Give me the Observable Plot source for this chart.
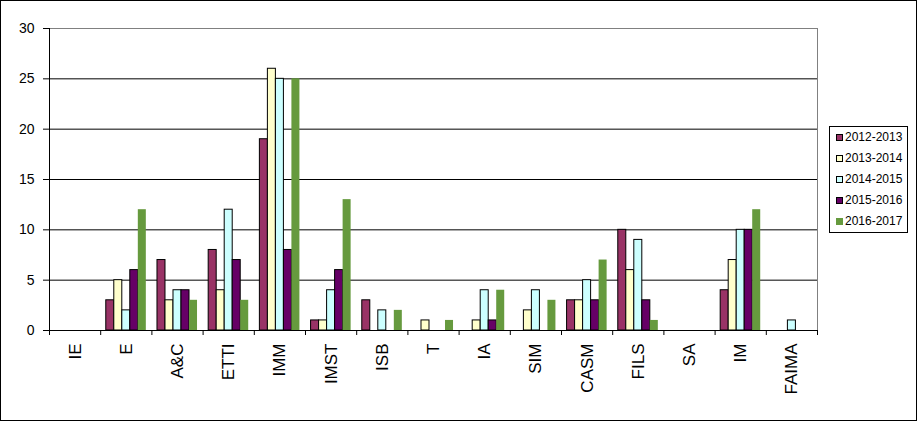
<!DOCTYPE html>
<html>
<head>
<meta charset="utf-8">
<script src="https://cdn.jsdelivr.net/npm/d3@7"></script>
<script src="https://cdn.jsdelivr.net/npm/@observablehq/plot@0.6"></script>
<style>
  html, body { margin: 0; padding: 0; background: #fff; }
  #wrap { position: relative; width: 918px; height: 424px; font-family: "Liberation Sans", Arial, sans-serif; }
  #border { position: absolute; left: 0; top: 0; width: 917px; height: 421px; border: 1px solid #000; box-sizing: border-box; pointer-events: none; }
  #legend { position: absolute; left: 829px; top: 126px; width: 79px; height: 107px; border: 1px solid #000; box-sizing: border-box; background: #fff; padding-top: 0px; }
  .item { height: 21px; line-height: 21px; font-size: 12px; color: #000; white-space: nowrap; display: flex; align-items: center; }
  .sw { width: 5px; height: 5px; border: 1px solid #000; margin-left: 6px; margin-right: 2px; flex: none; }
</style>
</head>
<body>
<div id="wrap"><div id="border"></div><div id="legend"></div></div>
<script>
const categories = ["IE", "E", "A&C", "ETTI", "IMM", "IMST", "ISB", "T", "IA", "SIM", "CASM", "FILS", "SA", "IM", "FAIMA"];
const seriesNames = ["2012-2013", "2013-2014", "2014-2015", "2015-2016", "2016-2017"];
const seriesColors = ["#993366", "#FFFFCC", "#CCFFFF", "#660066", "#669A3E"];
const seriesStrokes = ["#000", "#000", "#000", "#000", "none"];
const v2012_2013 = [0, 3, 7, 8, 19, 1, 3, 0, 0, 0, 3, 10, 0, 4, 0];
const v2013_2014 = [0, 5, 3, 4, 26, 1, 0, 1, 1, 2, 3, 6, 0, 7, 0];
const v2014_2015 = [0, 2, 4, 12, 25, 4, 2, 0, 4, 4, 5, 9, 0, 10, 1];
const v2015_2016 = [0, 6, 4, 7, 8, 6, 0, 0, 1, 0, 3, 3, 0, 10, 0];
const v2016_2017 = [0, 12, 3, 3, 25, 13, 2, 1, 4, 3, 7, 1, 0, 12, 0];
const yTicks = [0, 5, 10, 15, 20, 25, 30];

const seriesValues = [v2012_2013, v2013_2014, v2014_2015, v2015_2016, v2016_2017];
const groupFrac = 0.782;            // share of each category band covered by the bar group
const barFrac = groupFrac / seriesNames.length;
const rows = [];
seriesValues.forEach((vals, s) => {
  vals.forEach((v, i) => {
    if (v > 0) {
      const x1 = i + (1 - groupFrac) / 2 + s * barFrac;
      rows.push({cat: categories[i], series: seriesNames[s], s, x1, x2: x1 + barFrac, value: v});
    }
  });
});

const plot = Plot.plot({
  width: 918,
  height: 424,
  marginLeft: 49,
  marginRight: 101,
  marginTop: 28,
  marginBottom: 94,
  style: {fontFamily: "'Liberation Sans', Arial, sans-serif", fontSize: "14px", color: "#000", background: "transparent"},
  x: {domain: [0, categories.length], label: null},
  y: {domain: [0, 30], label: null},
  color: {domain: seriesNames, range: seriesColors},
  marks: [
    Plot.ruleY([5, 10, 15, 20, 25], {stroke: "#000", strokeWidth: 1}),
    Plot.ruleY([30], {stroke: "#808080", strokeWidth: 1}),
    Plot.ruleX([categories.length], {stroke: "#808080", strokeWidth: 1}),
    ...seriesNames.map((name, s) =>
      Plot.rectY(rows.filter(d => d.s === s), {
        x1: "x1", x2: "x2", y1: 0, y2: "value",
        fill: seriesColors[s], stroke: seriesStrokes[s], strokeWidth: 1
      })
    ),
    Plot.ruleX([0], {stroke: "#000", strokeWidth: 1}),
    Plot.ruleY([0], {stroke: "#000", strokeWidth: 1}),
    Plot.axisY(yTicks, {tickSize: 6, tickPadding: 9, stroke: "#000", strokeOpacity: 1, fontSize: 14, fill: "#000", label: null}),
    Plot.axisX(d3.range(categories.length + 1), {tickSize: 5, tickFormat: () => "", stroke: "#000", strokeOpacity: 1, label: null}),
    Plot.text(categories, {
      x: (d, i) => i + 0.5, frameAnchor: "bottom", dy: 13, rotate: -90,
      textAnchor: "end", lineAnchor: "middle", fontSize: 17, fill: "#000"
    })
  ]
});
plot.style.position = "absolute";
plot.style.left = "0px";
plot.style.top = "0px";
document.getElementById("wrap").prepend(plot);

const legend = document.getElementById("legend");
seriesNames.forEach((name, s) => {
  const item = document.createElement("div");
  item.className = "item";
  const sw = document.createElement("span");
  sw.className = "sw";
  sw.style.background = seriesColors[s];
  if (seriesStrokes[s] === "none") sw.style.borderColor = seriesColors[s];
  const label = document.createElement("span");
  label.textContent = name;
  item.appendChild(sw);
  item.appendChild(label);
  legend.appendChild(item);
});
</script>
</body>
</html>
